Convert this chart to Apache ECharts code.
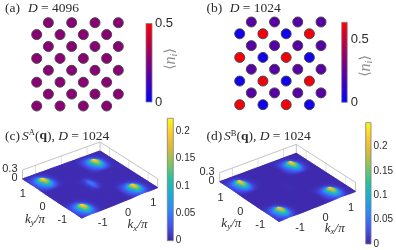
<!DOCTYPE html>
<html><head><meta charset="utf-8">
<style>html,body{margin:0;padding:0;background:#fff}#c{width:396px;height:250px}</style>
<script src="https://cdn.jsdelivr.net/npm/echarts@6/dist/echarts.min.js"></script>
</head><body><div id="c"></div>
<script>
// lattice sites (row by row, top to bottom)
var siteX=[1,3,5,7, 0,2,4,6, 1,3,5,7, 0,2,4,6, 1,3,5,7, 0,2,4,6, 1,3,5,7, 0,2,4,6];
var siteY=[7,7,7,7, 6,6,6,6, 5,5,5,5, 4,4,4,4, 3,3,3,3, 2,2,2,2, 1,1,1,1, 0,0,0,0];
var densityA=[.27,.27,.27,.27, .27,.27,.27,.27, .27,.27,.27,.27, .27,.27,.27,.27, .27,.27,.27,.27, .27,.27,.27,.27, .27,.27,.27,.27, .27,.27,.27,.27];
var densityB=[.22,.22,.22,.22, .04,.61,.04,.61, .22,.22,.22,.22, .61,.04,.61,.04, .22,.22,.22,.22, .04,.61,.04,.61, .22,.22,.22,.22, .61,.04,.61,.04];
// k-space nodes: kx/ky from -1.5 to 1.5 in steps of 0.125
var kNodes=[-1.5,-1.375,-1.25,-1.125,-1,-.875,-.75,-.625,-.5,-.375,-.25,-.125,0,.125,.25,.375,.5,.625,.75,.875,1,1.125,1.25,1.375,1.5];
// S(q) in units of 0.001; first row is ky=-1.5, first column kx=-1.5
var structureA=[
[8,16,24,30,26,14,7,4,4,4,4,4,4,4,4,4,8,16,24,30,26,14,7,4,4],
[14,28,46,85,58,26,10,5,4,4,4,4,4,4,4,4,14,28,46,85,58,26,10,5,4],
[18,38,70,150,105,36,13,5,4,4,4,4,4,4,4,4,18,38,70,150,105,36,13,5,4],
[20,42,100,200,140,42,14,6,4,4,4,4,4,4,4,4,20,42,100,200,140,42,14,6,4],
[20,44,125,223,120,36,12,5,4,4,4,4,4,4,4,4,20,44,125,223,120,36,12,5,4],
[16,32,60,100,52,20,9,5,4,4,4,4,4,4,4,4,16,32,60,100,52,20,9,5,4],
[12,20,28,34,22,12,7,5,4,4,4,4,4,4,4,4,12,20,28,34,22,12,7,5,4],
[7,10,12,12,10,7,5,4,4,4,4,4,4,4,4,4,7,10,12,12,10,7,5,4,4],
[4,5,5,5,5,5,4,4,4,4,4,4,4,4,4,4,4,5,5,5,5,5,4,4,4],
[4,4,4,4,4,4,4,4,4,4,5,8,16,8,5,4,4,4,4,4,4,4,4,4,4],
[4,4,4,4,4,4,4,4,4,4,6,12,34,16,6,4,4,4,4,4,4,4,4,4,4],
[4,4,4,4,4,4,4,4,4,4,6,16,52,22,7,4,4,4,4,4,4,4,4,4,4],
[4,4,4,4,4,4,4,4,4,4,7,18,60,24,8,4,4,4,4,4,4,4,4,4,4],
[4,4,4,4,4,4,4,4,4,4,6,14,40,18,7,4,4,4,4,4,4,4,4,4,4],
[4,4,4,4,4,4,4,4,4,4,6,10,22,12,6,4,4,4,4,4,4,4,4,4,4],
[4,4,4,4,4,4,4,4,4,4,5,6,10,6,5,4,4,4,4,4,4,4,4,4,4],
[8,16,24,30,26,14,7,4,4,4,4,4,4,4,4,4,8,16,24,30,26,14,7,4,4],
[14,28,46,85,58,26,10,5,4,4,4,4,4,4,4,4,14,28,46,85,58,26,10,5,4],
[18,38,70,150,105,36,13,5,4,4,4,4,4,4,4,4,18,38,70,150,105,36,13,5,4],
[20,42,100,200,140,42,14,6,4,4,4,4,4,4,4,4,20,42,100,200,140,42,14,6,4],
[20,44,125,223,120,36,12,5,4,4,4,4,4,4,4,4,20,44,125,223,120,36,12,5,4],
[16,32,60,100,52,20,9,5,4,4,4,4,4,4,4,4,16,32,60,100,52,20,9,5,4],
[12,20,28,34,22,12,7,5,4,4,4,4,4,4,4,4,12,20,28,34,22,12,7,5,4],
[7,10,12,12,10,7,5,4,4,4,4,4,4,4,4,4,7,10,12,12,10,7,5,4,4],
[4,5,5,5,5,5,4,4,4,4,4,4,4,4,4,4,4,5,5,5,5,5,4,4,4]];
var structureB=[
[7,14,22,28,24,12,6,3,3,3,3,3,3,3,3,3,7,14,22,28,24,12,6,3,3],
[12,26,44,85,58,24,9,4,3,3,3,3,3,3,3,3,12,26,44,85,58,24,9,4,3],
[16,36,70,155,110,34,12,4,3,3,3,3,3,3,3,3,16,36,70,155,110,34,12,4,3],
[18,40,100,215,150,40,13,5,3,3,3,3,3,3,3,3,18,40,100,215,150,40,13,5,3],
[18,42,130,248,125,34,11,4,3,3,3,3,3,3,3,3,18,42,130,248,125,34,11,4,3],
[15,30,58,105,50,18,8,4,3,3,3,3,3,3,3,3,15,30,58,105,50,18,8,4,3],
[11,18,26,32,20,11,6,4,3,3,3,3,3,3,3,3,11,18,26,32,20,11,6,4,3],
[6,9,10,10,9,6,4,3,3,3,3,3,3,3,3,3,6,9,10,10,9,6,4,3,3],
[3,4,4,4,4,4,3,3,3,3,3,3,3,3,3,3,3,4,4,4,4,4,3,3,3],
[3,3,3,3,3,3,3,3,3,3,3,3,4,3,3,3,3,3,3,3,3,3,3,3,3],
[3,3,3,3,3,3,3,3,3,3,3,4,5,4,3,3,3,3,3,3,3,3,3,3,3],
[3,3,3,3,3,3,3,3,3,3,3,4,6,4,3,3,3,3,3,3,3,3,3,3,3],
[3,3,3,3,3,3,3,3,3,3,3,4,6,5,3,3,3,3,3,3,3,3,3,3,3],
[3,3,3,3,3,3,3,3,3,3,3,4,5,4,3,3,3,3,3,3,3,3,3,3,3],
[3,3,3,3,3,3,3,3,3,3,3,3,4,3,3,3,3,3,3,3,3,3,3,3,3],
[3,3,3,3,3,3,3,3,3,3,3,3,3,3,3,3,3,3,3,3,3,3,3,3,3],
[7,14,22,28,24,12,6,3,3,3,3,3,3,3,3,3,7,14,22,28,24,12,6,3,3],
[12,26,44,85,58,24,9,4,3,3,3,3,3,3,3,3,12,26,44,85,58,24,9,4,3],
[16,36,70,155,110,34,12,4,3,3,3,3,3,3,3,3,16,36,70,155,110,34,12,4,3],
[18,40,100,215,150,40,13,5,3,3,3,3,3,3,3,3,18,40,100,215,150,40,13,5,3],
[18,42,130,248,125,34,11,4,3,3,3,3,3,3,3,3,18,42,130,248,125,34,11,4,3],
[15,30,58,105,50,18,8,4,3,3,3,3,3,3,3,3,15,30,58,105,50,18,8,4,3],
[11,18,26,32,20,11,6,4,3,3,3,3,3,3,3,3,11,18,26,32,20,11,6,4,3],
[6,9,10,10,9,6,4,3,3,3,3,3,3,3,3,3,6,9,10,10,9,6,4,3,3],
[3,4,4,4,4,4,3,3,3,3,3,3,3,3,3,3,3,4,4,4,4,4,3,3,3]];
var kTicks=[-1,0,1];
var zTicks=[0,0.3];
var parula=['#3e26a8','#4454f0','#2f86f6','#18acd8','#25c0a2','#7cc661','#d6b83e','#fdc92f','#f9fb15'];
var blueRed=['#0000ff','#ff0000'];

var SANS='"Liberation Sans",Arial,sans-serif', SERIF='"Liberation Serif","Times New Roman",serif';
var INK='#2b2b2b';
var SUB=3; // each data cell is painted as SUB x SUB smooth facets

function hex(c){return [parseInt(c.substr(1,2),16),parseInt(c.substr(3,2),16),parseInt(c.substr(5,2),16)];}
function mapColor(stops,t){
  t=Math.max(0,Math.min(1,t))*(stops.length-1);
  var i=Math.min(stops.length-2,Math.floor(t)),f=t-i,a=hex(stops[i]),b=hex(stops[i+1]);
  return 'rgb('+[0,1,2].map(function(k){return Math.round(a[k]+(b[k]-a[k])*f);}).join(',')+')';
}
function gradient(stops){
  return new echarts.graphic.LinearGradient(0,1,0,0,stops.map(function(c,i){return {offset:i/(stops.length-1),color:c};}));
}
function project(P,a,b,z){
  var x=(1-a)*(1-b)*P.bottom[0]+a*(1-b)*P.right[0]+(1-a)*b*P.left[0]+a*b*P.top[0];
  var y=(1-a)*(1-b)*P.bottom[1]+a*(1-b)*P.right[1]+(1-a)*b*P.left[1]+a*b*P.top[1];
  return [x,y-z*P.zScale];
}
function unit(api,params,kx,ky){
  var p=api.coord([kx,ky]),s=params.coordSys;
  return [(p[0]-s.x)/s.width,(s.y+s.height-p[1])/s.height];
}
var panels=[
 {grid:2,m:structureA,max:.223,zScale:30,surf:16,bottom:[81.7,218.3],right:[157.7,187.7],left:[22.5,179],top:[100,151],
  kyOff:[-9.5,8.7],kxOff:[8.3,10],zOff:[-5,-1.4]},
 {grid:3,m:structureB,max:.249,zScale:30,surf:16,bottom:[279,221.7],right:[355.5,191.5],left:[219.7,181.7],top:[296.3,153.3],
  kyOff:[-9,10],kxOff:[8.3,11],zOff:[-5,-.8]}
];
var grids=[
 {left:36.7,top:22.7,width:81.6,height:83.3},
 {left:239.7,top:22,width:81.3,height:82.7},
 {left:0,top:118,width:198,height:130},
 {left:198,top:118,width:198,height:130},
 {left:146,top:23.5,width:6,height:78.5},
 {left:341.7,top:22.3,width:5.5,height:80},
 {left:167.3,top:118.3,width:6,height:122.4},
 {left:365.7,top:122.7,width:5.6,height:121.3}
];
var xAxes=[],yAxes=[],series=[];
function hiddenAxes(xmin,xmax,ymin,ymax){
  xAxes.push({gridIndex:xAxes.length,type:'value',min:xmin,max:xmax,show:false});
  yAxes.push({gridIndex:yAxes.length,type:'value',min:ymin,max:ymax,show:false});
}
hiddenAxes(0,7,0,7);hiddenAxes(0,7,0,7);
hiddenAxes(-1.5,1.5,-1.5,1.5);hiddenAxes(-1.5,1.5,-1.5,1.5);

function lattice(idx,vals){
  series.push({type:'scatter',xAxisIndex:idx,yAxisIndex:idx,clip:false,symbolSize:10,silent:true,
    data:siteX.map(function(x,i){return [x,siteY[i],vals[i]];}),
    itemStyle:{borderColor:'#4a4a4a',borderWidth:1,opacity:1}});
}
lattice(0,densityA);lattice(1,densityB);

panels.forEach(function(P){
  var idx=P.grid;
  series.push({type:'custom',xAxisIndex:idx,yAxisIndex:idx,clip:false,silent:true,
    data:[[1.5,1.5]],
    renderItem:function(params,api){
      var ch=[];
      function L(a,b,z,a2,b2,z2,c){
        var p=project(P,a,b,z),q=project(P,a2,b2,z2);
        ch.push({type:'line',shape:{x1:p[0],y1:p[1],x2:q[0],y2:q[1]},style:{stroke:c,lineWidth:.8}});
      }
      var zt=zTicks[1],w='#b4b4b4',g='#d8d8d8';
      kTicks.forEach(function(k){
        var t=unit(api,params,k,k);
        L(t[0],1,0,t[0],1,zt,g);
        L(1,t[1],0,1,t[1],zt,g);
      });
      L(0,1,zt,1,1,zt,w);L(1,1,zt,1,0,zt,w);
      L(0,1,0,0,1,zt,w);L(1,1,0,1,1,zt,w);L(1,0,0,1,0,zt,w);
      return {type:'group',children:ch};
    }});
  // surface cells, painted back to front
  var cells=[];
  for(var r=kNodes.length-2;r>=0;r--)for(var c=kNodes.length-2;c>=0;c--)cells.push([kNodes[c],kNodes[r],c,r]);
  series.push({type:'custom',xAxisIndex:idx,yAxisIndex:idx,clip:false,silent:true,data:cells,
    renderItem:function(params,api){
      var c=api.value(2),r=api.value(3),m=P.m;
      var z00=m[r][c]/1000,z10=m[r][c+1]/1000,z11=m[r+1][c+1]/1000,z01=m[r+1][c]/1000;
      var A=unit(api,params,kNodes[c],kNodes[r]),B=unit(api,params,kNodes[c+1],kNodes[r+1]);
      function Z(s,t){return (1-s)*(1-t)*z00+s*(1-t)*z10+s*t*z11+(1-s)*t*z01;}
      function V(s,t){return project({bottom:P.bottom,right:P.right,left:P.left,top:P.top,zScale:P.surf},
        A[0]+(B[0]-A[0])*s,A[1]+(B[1]-A[1])*t,Z(s,t));}
      var ch=[];
      for(var j=SUB-1;j>=0;j--)for(var i=SUB-1;i>=0;i--){
        var s0=i/SUB,s1=(i+1)/SUB,t0=j/SUB,t1=(j+1)/SUB;
        var col=mapColor(parula,Z((s0+s1)/2,(t0+t1)/2)/P.max);
        ch.push({type:'polygon',shape:{points:[V(s0,t0),V(s1,t0),V(s1,t1),V(s0,t1)]},style:{fill:col,stroke:col,lineWidth:.9}});
      }
      return {type:'group',children:ch};
    }});
  function tickSeries(data,fn){
    series.push({type:'custom',xAxisIndex:idx,yAxisIndex:idx,clip:false,silent:true,data:data,
      renderItem:function(params,api){
        var v=data[params.dataIndex],o=fn(v,params,api);
        return {type:'text',x:o[0],y:o[1],style:{text:String(v),fill:INK,font:'11px '+SANS,align:o[2]||'center',verticalAlign:'middle'}};
      }});
  }
  tickSeries(kTicks,function(k,params,api){var t=unit(api,params,k,0),p=project(P,t[0],0,0);return [p[0]+P.kxOff[0],p[1]+P.kxOff[1]];});
  tickSeries(kTicks,function(k,params,api){var t=unit(api,params,0,k),p=project(P,0,t[1],0);return [p[0]+P.kyOff[0],p[1]+P.kyOff[1]];});
  tickSeries(zTicks,function(v){var p=project(P,0,1,v);return [p[0]+P.zOff[0],p[1]+P.zOff[1],'right'];});
});

function colorbar(idx,stops,max,interval,fs,margin){
  var i=xAxes.length;
  xAxes.push({gridIndex:i,type:'value',min:0,max:1,show:false});
  yAxes.push({gridIndex:i,type:'value',position:'right',min:0,max:max,interval:interval,
    axisLine:{show:false},axisTick:{show:false},splitLine:{show:false},
    axisLabel:{show:true,showMaxLabel:false,showMinLabel:true,margin:margin,color:INK,fontFamily:SANS,fontSize:fs,
      formatter:function(v){return String(+v.toFixed(2));}}});
  series.push({type:'custom',xAxisIndex:i,yAxisIndex:i,clip:false,silent:true,data:[[0,max]],
    renderItem:function(params,api){
      var a=api.coord([0,0]),b=api.coord([1,max]);
      return {type:'rect',shape:{x:a[0],y:b[1],width:b[0]-a[0],height:a[1]-b[1]},
        style:{fill:gradient(stops),stroke:'#808080',lineWidth:.8}};
    }});
}
colorbar(4,blueRed,.5001,.5,13,3);
colorbar(5,blueRed,.635,.5,13,3.5);
colorbar(6,parula,.223,.05,10,2.5);
colorbar(7,parula,.249,.05,10,2.5);

var richT={
  i:{fontFamily:SERIF,fontSize:13.5,fontStyle:'italic',fill:INK},
  t:{fontFamily:SERIF,fontSize:13.5,fill:INK},
  b:{fontFamily:SERIF,fontSize:13.5,fontWeight:'bold',fill:INK},
  u:{fontFamily:SERIF,fontSize:8.5,fill:INK,verticalAlign:'top',lineHeight:15}
};
var richK={
  k:{fontFamily:SERIF,fontSize:13,fontStyle:'italic',fill:INK},
  s:{fontFamily:SERIF,fontSize:9,fontStyle:'italic',fill:INK,verticalAlign:'bottom',lineHeight:16},
  o:{fontFamily:SERIF,fontSize:13,fontStyle:'italic',fill:INK}
};
var richN={
  a:{fontFamily:'"DejaVu Serif",serif',fontSize:14,fill:'#8c8c8c'},
  n:{fontFamily:SERIF,fontSize:16,fontStyle:'italic',fill:'#8c8c8c'},
  s:{fontFamily:SERIF,fontSize:10,fontStyle:'italic',fill:'#8c8c8c',verticalAlign:'bottom',lineHeight:17}
};
function title(x,y,lab,gap,parts){
  return [{type:'text',x:x,y:y,style:{text:lab,fill:INK,font:'13.5px '+SERIF,verticalAlign:'middle'}},
          {type:'text',x:x+gap,y:y,style:{text:parts,verticalAlign:'middle',rich:richT}}];
}
function kName(x,y,sub){return {type:'text',x:x,y:y,style:{text:'{k|k}{s|'+sub+'}{o|/π}',align:'center',verticalAlign:'middle',rich:richK}};}
function nName(x,y){return {type:'text',x:x,y:y,rotation:Math.PI/2,style:{text:'{a|⟨}{n|n}{s|i}{a|⟩}',align:'center',verticalAlign:'middle',rich:richN}};}
var graphics=[].concat(
  title(5,8,'(a)',23,'{i|D} {t|= 4096}'),
  title(206.5,8.5,'(b)',23.2,'{i|D} {t|= 1024}'),
  title(5,136,'(c)',17,'{i|S}{u|A}{t|(}{b|q}{t|), }{i|D} {t|= 1024}'),
  title(206.5,136.7,'(d)',17.5,'{i|S}{u|B}{t|(}{b|q}{t|), }{i|D} {t|= 1024}'),
  [kName(35,219.3,'y'),kName(137.5,225,'x'),kName(231.3,223.3,'y'),kName(334.7,228.3,'x'),
   nName(170.5,59),nName(365.5,66)]
);

var chart=echarts.init(document.getElementById('c'),null,{renderer:'canvas'});
chart.setOption({
  animation:false,backgroundColor:'#fff',
  grid:grids.map(function(g){return Object.assign({show:false,containLabel:false},g);}),
  xAxis:xAxes,yAxis:yAxes,series:series,
  visualMap:[
   {show:false,type:'continuous',seriesIndex:0,dimension:2,min:0,max:.5,inRange:{color:blueRed}},
   {show:false,type:'continuous',seriesIndex:1,dimension:2,min:0,max:.635,inRange:{color:blueRed}}
  ],
  graphic:{elements:graphics}
});
</script></body></html>
